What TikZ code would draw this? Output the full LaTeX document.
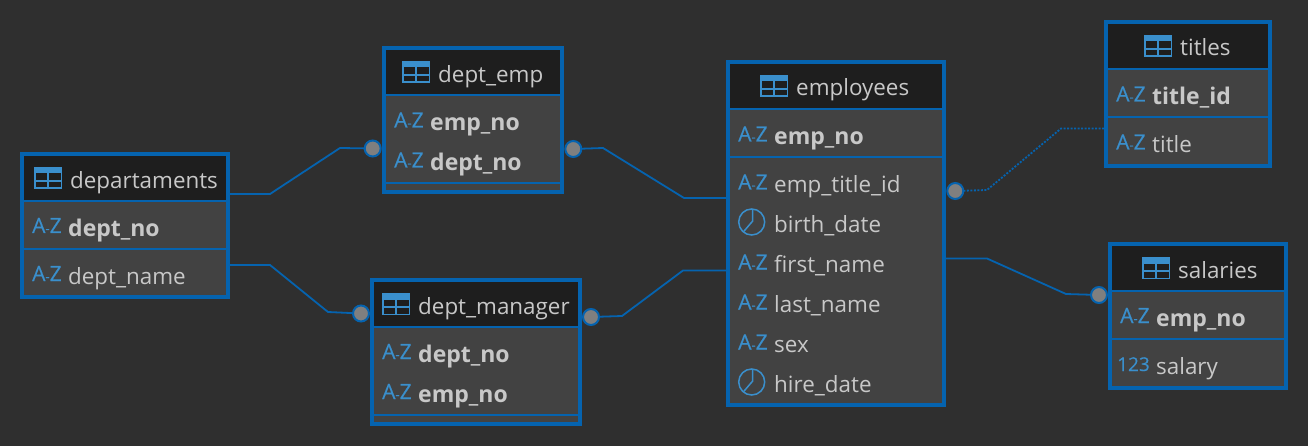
\documentclass[tikz,border=0pt]{standalone}
\usepackage{fontspec}
\setmainfont{Open Sans}
\newfontfamily\erIconFont[FakeBold=0.4]{Open Sans}
\usetikzlibrary{positioning}
\definecolor{erBack}{HTML}{2F2F2F}
\definecolor{erBody}{HTML}{424242}
\definecolor{erHead}{HTML}{1E1E1E}
\definecolor{erBlue}{HTML}{0563AF}
\definecolor{erIcon}{HTML}{3A8FCC}
\definecolor{erText}{HTML}{C8C8C8}
\definecolor{erDot}{HTML}{7F7F7F}
\newcommand{\erAZ}{A{\fontsize{13}{13}\selectfont-}Z}
\tikzset{
  tabicon/.pic={
    \fill[erIcon] (0,0) rectangle (28,6.5);
    \draw[erIcon,line width=1.5pt] (0.75,0.75) rectangle (27.25,21.25);
    \draw[erIcon,line width=1.5pt] (14,6) -- (14,21) (1,14) -- (27,14);
  },
  clockicon/.pic={
    \draw[erIcon,line width=1.5pt] (0,0) circle (13);
    \draw[erIcon,line width=1.5pt] (1,-12) -- (1,-1) -- (-8,9.5);
  }
}
\begin{document}
\begin{tikzpicture}[x=1pt,y=-1pt,
      tbl/.style={draw=erBlue,fill=erBody,line width=4pt,inner sep=0pt,outer sep=0pt},
      hdr/.style={fill=erHead,inner sep=0pt,outer sep=0pt},
      sep/.style={erBlue,line width=2pt},
      title/.style={anchor=base west,inner sep=0pt,text=erText,yshift=-1pt,font=\fontsize{22.4}{24}\selectfont},
      field/.style={title},
      keyf/.style={title,yshift=-0.5pt,font=\fontsize{23}{24}\selectfont\bfseries},
      ticon/.style={anchor=base west,inner sep=0pt,text=erIcon,font=\fontsize{21}{22}\erIconFont},
      rel/.style={erBlue,line width=1.8pt},
      opt/.style={rel,dash pattern=on 2pt off 1.5pt},
      endp/.style={circle,draw=erBlue,fill=erDot,line width=2pt,minimum size=16pt,inner sep=0pt,outer sep=0pt}]
    \fill[erBack] (0,0) rectangle (1308,446);
    \useasboundingbox (0,0) rectangle (1308,446);

    % connectors
    \node[endp] (c1) at (372.7,148.5) {};
    \node[endp] (c2) at (361,313.5) {};
    \node[endp] (c3) at (573.3,149) {};
    \node[endp] (c4) at (591,317) {};
    \node[endp] (c5) at (955.3,191) {};
    \node[endp] (c6) at (1099,295) {};

    % tables
    \node[tbl,minimum width=206,minimum height=143] (departaments) at (125,225.5) {};
    \node[tbl,minimum width=178,minimum height=144] (deptemp) at (473,120) {};
    \node[tbl,minimum width=208,minimum height=144] (deptmanager) at (476,352) {};
    \node[tbl,minimum width=216,minimum height=343] (employees) at (836,233.5) {};
    \node[tbl,minimum width=164,minimum height=144] (titles) at (1188,94) {};
    \node[tbl,minimum width=176,minimum height=144] (salaries) at (1198,316) {};

    \node[hdr,minimum width=202,minimum height=45] (h1) at (125,178.5) {};
    \node[hdr,minimum width=174,minimum height=45] (h2) at (473,72.5) {};
    \node[hdr,minimum width=204,minimum height=45] (h3) at (476,304.5) {};
    \node[hdr,minimum width=212,minimum height=45] (h4) at (836,86.5) {};
    \node[hdr,minimum width=160,minimum height=45] (h5) at (1188,46.5) {};
    \node[hdr,minimum width=172,minimum height=45] (h6) at (1198,268.5) {};

    \foreach \a/\y in {departaments/201,departaments/249,deptemp/95,deptemp/183,deptmanager/327,deptmanager/415,
                       employees/109,employees/157,titles/69,titles/117,salaries/291,salaries/339}
      \draw[sep] (\a.west |- 0,\y) -- (\a.east |- 0,\y);

    \draw[rel] (departaments.east |- 0,194) -- (270,194) -- (340,148) -- (c1);
    \draw[rel] (departaments.east |- 0,265) -- (270,265) -- (328,312) -- (c2);
    \draw[rel] (c3) -- (603,148) -- (684,198) -- (employees.west |- 0,198);
    \draw[rel] (c4) -- (622,316) -- (683,270.5) -- (employees.west |- 0,270.5);
    \draw[opt] (c5) -- (987,190) -- (1061,128.5) -- (titles.west |- 0,128.5);
    \draw[rel] (employees.east |- 0,258.5) -- (987,258.5) -- (1066,294) -- (c6);

    % table headings
    \foreach \n/\x/\y/\ix/\iy/\t in {t1/70/188/34/167/departaments,t2/438/82/402/61/dept\_emp,
                                     t3/418/313.5/382/293/dept\_manager,t4/796/95/760/75/employees,
                                     t5/1180/55/1144/35/titles,t6/1178/277.5/1142/257/salaries}{
      \pic at (\ix,\iy) {tabicon};
      \node[title] (\n) at (\x,\y) {\t};
    }

    % key columns
    \foreach \n/\x/\y/\t in {k1/68/235/dept\_no,k2/430/129.5/emp\_no,k3/430/169.5/dept\_no,
                             k4/418/361/dept\_no,k5/418/401/emp\_no,k6/774/143.5/emp\_no,
                             k7/1152/103.5/title\_id,k8/1156/325/emp\_no}{
      \node[keyf] (\n) at (\x,\y) {\t};
      \node[ticon] (a\n) at (\x-36,\y-2) {\erAZ};
    }

    % plain columns
    \foreach \n/\x/\y/\t in {f1/68/283/dept\_name,f2/774/191.5/emp\_title\_id,f3/774/271.5/first\_name,
                             f4/774/311.5/last\_name,f5/774/351.5/sex,f6/1152/151.5/title}{
      \node[field] (\n) at (\x,\y) {\t};
      \node[ticon] (a\n) at (\x-36,\y-2) {\erAZ};
    }
    \node[field] (f7) at (774,231.5) {birth\_date};
    \node[field] (f8) at (774,391.5) {hire\_date};
    \node[field] (f9) at (1156,373) {salary};
    \node[ticon,font=\fontsize{19}{22}\erIconFont] (af9) at (1117,371) {123};
    \pic at (751.7,222) {clockicon};
    \pic at (751.7,382) {clockicon};
  \end{tikzpicture}
\end{document}
